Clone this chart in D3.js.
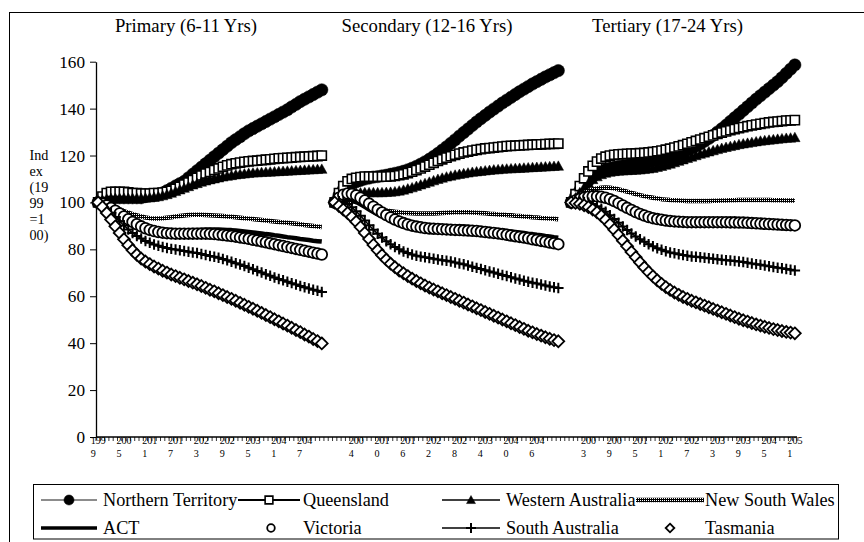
<!DOCTYPE html>
<html><head><meta charset="utf-8">
<script src="https://cdn.jsdelivr.net/npm/d3@7"></script>
<style>
body{margin:0;background:#fff}
svg{display:block}
text{font-family:"Liberation Serif","Tinos","Times New Roman","Nimbus Roman","FreeSerif","DejaVu Serif","Noto Serif",serif;fill:#000}
</style>
</head><body>
<svg id="chart" width="864" height="542"></svg>
<script>
// ---------- data ----------
const years = d3.range(1999, 2052);
const panelTitles = ["Primary (6-11 Yrs)", "Secondary (12-16 Yrs)", "Tertiary (17-24 Yrs)"];
const seriesNames = ["Northern Territory", "Queensland", "Western Australia", "New South Wales",
                     "ACT", "Victoria", "South Australia", "Tasmania"];
const yTicks = [0, 20, 40, 60, 80, 100, 120, 140, 160];
const yTitleLines = ["Ind", "ex", "(19", "99", "=1", "00)"];

// Primary (6-11 Yrs)
const ntPrimary = [100,101,101.5,102,102,102,102,102,102,102,
  102,102.5,103,103,103.5,104,105,106,107,108,
  109,110.5,112,113.5,115,116.5,118,119.5,121,122.5,
  124,125.5,126.8,128,129.3,130.5,131.5,132.5,133.5,134.5,
  135.5,136.5,137.5,138.5,139.5,140.7,141.8,143,144,145,
  146,147,148];
const qldPrimary = [100,102.5,104,104.5,104.5,104.5,104.5,104.3,104,104,
  103.8,103.8,103.8,104,104,104.2,104.5,105,105.8,106.7,
  107.6,108.5,109.5,110.5,111.5,112.3,113,113.8,114.5,115.2,
  115.8,116.3,116.7,117,117.3,117.5,117.7,117.8,118,118.2,
  118.4,118.6,118.8,118.9,119,119.1,119.3,119.4,119.5,119.6,
  119.7,119.8,120];
const waPrimary = [100,101,101.5,101.7,101.8,101.8,101.8,101.8,101.8,101.8,
  101.8,101.9,102,102.2,102.5,102.9,103.4,104,104.7,105.4,
  106.1,106.8,107.5,108.1,108.7,109.2,109.7,110.1,110.5,110.9,
  111.2,111.5,111.8,112,112.2,112.4,112.6,112.7,112.8,112.9,
  113,113.1,113.2,113.3,113.4,113.5,113.6,113.7,113.8,113.9,
  114,114.1,114.2];
const nswPrimary = [100,99.5,99,98.5,97.8,97,96.3,95.6,95,94.5,
  94,93.6,93.3,93.2,93.2,93.3,93.5,93.7,94,94.2,
  94.4,94.6,94.7,94.7,94.7,94.6,94.5,94.4,94.3,94.2,
  94,93.9,93.7,93.5,93.3,93.1,92.9,92.7,92.5,92.3,
  92.1,91.9,91.7,91.5,91.3,91.1,90.9,90.7,90.4,90.2,
  90,89.7,89.5];
const actPrimary = [100,99,97.8,96.5,95.2,94,92.8,91.8,91,90.2,
  89.6,89,88.6,88.3,88,87.9,87.8,87.8,87.8,87.9,
  88,88.1,88.2,88.3,88.4,88.5,88.5,88.5,88.5,88.4,
  88.3,88.2,88,87.8,87.6,87.4,87.2,87,86.8,86.5,
  86.3,86,85.8,85.5,85.2,85,84.7,84.4,84.2,84,
  83.7,83.5,83.3];
const vicPrimary = [100,99.5,98.7,97.7,96.5,95.3,94,92.8,91.7,90.7,
  89.8,89,88.3,87.8,87.4,87.1,86.9,86.8,86.7,86.7,
  86.7,86.7,86.7,86.7,86.7,86.7,86.6,86.5,86.3,86.1,
  85.9,85.7,85.4,85.1,84.8,84.5,84.1,83.8,83.4,83,
  82.6,82.2,81.8,81.4,81,80.6,80.2,79.8,79.4,79,
  78.6,78.2,77.8];
const saPrimary = [100,98.8,97.3,95.6,93.8,92,90.2,88.5,87,85.7,
  84.6,83.6,82.8,82.1,81.5,81,80.6,80.2,79.9,79.6,
  79.3,79,78.7,78.4,78,77.6,77.2,76.8,76.4,75.9,
  75.3,74.7,74.1,73.5,72.9,72.2,71.5,70.8,70.1,69.4,
  68.7,68,67.4,66.8,66.2,65.6,65,64.4,63.8,63.3,
  62.8,62.3,61.8];
const tasPrimary = [100,98,95.5,92.7,89.8,87,84.3,81.8,79.6,77.7,
  76.1,74.8,73.7,72.7,71.8,70.9,70.1,69.3,68.6,67.9,
  67.2,66.5,65.8,65.1,64.4,63.6,62.8,62.1,61.3,60.5,
  59.7,58.9,58.1,57.2,56.4,55.5,54.7,53.8,52.9,52,
  51.1,50.2,49.3,48.4,47.5,46.6,45.6,44.7,43.7,42.8,
  41.8,40.9,39.9];

// Secondary (12-16 Yrs)
const ntSecondary = [100,103,105.5,107,108,108.8,109.4,110,110.4,110.8,
  111,111.3,111.6,112,112.4,112.8,113.3,113.9,114.6,115.4,
  116.3,117.3,118.4,119.6,120.9,122.3,123.7,125.2,126.7,128.3,
  129.8,131.3,132.8,134.3,135.7,137.1,138.5,139.8,141.1,142.4,
  143.6,144.8,146,147.2,148.3,149.4,150.5,151.5,152.5,153.5,
  154.4,155.3,156.2];
const qldSecondary = [100,104,107,109,110,110.5,110.8,111,111,111,
  111,111,111,111.1,111.3,111.6,112,112.5,113.1,113.8,
  114.5,115.3,116.1,116.9,117.7,118.4,119.1,119.7,120.3,120.8,
  121.3,121.7,122.1,122.4,122.7,123,123.2,123.4,123.6,123.8,
  124,124.1,124.2,124.3,124.4,124.5,124.6,124.7,124.8,124.9,
  125,125,125.1];
const waSecondary = [100,101.5,102.5,103.2,103.7,104,104.1,104.2,104.2,104.2,
  104.2,104.2,104.3,104.4,104.6,104.9,105.3,105.8,106.3,106.9,
  107.5,108.1,108.7,109.3,109.9,110.4,110.9,111.3,111.7,112,
  112.3,112.6,112.9,113.1,113.3,113.5,113.7,113.9,114,114.2,
  114.3,114.4,114.5,114.6,114.7,114.8,114.9,115,115.1,115.2,
  115.3,115.4,115.5];
const nswSecondary = [100,100.5,100.8,100.8,100.6,100.2,99.7,99.1,98.5,97.9,
  97.4,97,96.6,96.3,96,95.8,95.6,95.5,95.4,95.3,
  95.3,95.3,95.3,95.3,95.4,95.5,95.6,95.7,95.8,95.8,
  95.8,95.8,95.7,95.6,95.5,95.4,95.2,95.1,94.9,94.8,
  94.6,94.5,94.3,94.2,94,93.9,93.7,93.6,93.4,93.3,
  93.1,93,92.8];
const actSecondary = [100,101,101.5,101.5,101,100.2,99.2,98.1,97,95.9,
  94.9,94,93.2,92.5,91.9,91.4,91,90.7,90.4,90.2,
  90,89.9,89.8,89.7,89.7,89.7,89.7,89.7,89.7,89.7,
  89.6,89.5,89.4,89.2,89,88.8,88.6,88.4,88.2,88,
  87.8,87.6,87.4,87.2,87,86.7,86.5,86.2,86,85.7,
  85.5,85.2,85];
const vicSecondary = [100,102,103.3,103.8,103.6,103,102,100.8,99.5,98.2,
  96.9,95.7,94.6,93.6,92.7,91.9,91.2,90.6,90.1,89.7,
  89.4,89.1,88.9,88.8,88.7,88.6,88.5,88.4,88.3,88.2,
  88.1,88,87.9,87.8,87.6,87.4,87.2,87,86.8,86.5,
  86.2,85.9,85.6,85.3,85,84.7,84.3,84,83.6,83.3,
  82.9,82.6,82.2];
const saSecondary = [100,100.5,100.2,99.3,97.9,96.2,94.3,92.3,90.3,88.4,
  86.6,85,83.5,82.2,81,80,79.1,78.4,77.8,77.3,
  76.9,76.6,76.3,76,75.7,75.4,75.1,74.8,74.4,74,
  73.6,73.1,72.6,72.1,71.6,71.1,70.6,70.1,69.6,69.1,
  68.6,68.1,67.6,67.1,66.6,66.2,65.8,65.4,65,64.6,
  64.2,63.8,63.5];
const tasSecondary = [100,98.5,97,95.5,93.8,91.8,89.5,87,84.4,81.9,
  79.6,77.5,75.6,73.9,72.4,71,69.8,68.6,67.5,66.5,
  65.5,64.6,63.7,62.9,62.1,61.3,60.5,59.7,58.9,58.1,
  57.3,56.5,55.7,54.9,54.1,53.3,52.5,51.7,50.9,50.1,
  49.3,48.5,47.7,46.9,46.1,45.3,44.6,43.9,43.2,42.5,
  41.9,41.3,40.8];

// Tertiary (17-24 Yrs)
const ntTertiary = [100,102.5,105,107.3,109.3,111,112.3,113.3,114,114.6,
  115,115.3,115.6,115.9,116.2,116.5,116.8,117.1,117.4,117.8,
  118.1,118.5,119,119.5,120.1,120.8,121.5,122.3,123.1,124,
  125,126.1,127.3,128.6,130,131.4,132.9,134.5,136.1,137.6,
  139.2,140.8,142.4,144,145.5,147,148.5,150,151.5,153.2,
  155,156.8,158.6];
const qldTertiary = [100,103.5,107,110.3,113.2,115.6,117.4,118.7,119.5,120,
  120.3,120.5,120.6,120.7,120.8,120.9,121,121.1,121.3,121.5,
  121.8,122.1,122.5,122.9,123.4,123.9,124.4,125,125.6,126.2,
  126.8,127.4,128,128.6,129.2,129.8,130.3,130.8,131.3,131.7,
  132.1,132.5,132.9,133.2,133.5,133.8,134.1,134.3,134.5,134.7,
  134.9,135,135.1];
const waTertiary = [100,102,104.2,106.3,108.2,109.8,111,111.9,112.5,112.9,
  113.2,113.4,113.5,113.6,113.7,113.8,113.9,114.1,114.3,114.6,
  115,115.4,115.9,116.4,117,117.6,118.2,118.8,119.4,120,
  120.6,121.1,121.6,122.1,122.6,123.1,123.5,123.9,124.3,124.7,
  125,125.3,125.6,125.9,126.2,126.4,126.6,126.8,127,127.2,
  127.4,127.5,127.7];
const nswTertiary = [100,101.5,102.8,103.9,104.8,105.5,106,106.3,106.4,106.3,
  106,105.6,105.1,104.6,104.1,103.6,103.1,102.7,102.3,102,
  101.7,101.4,101.2,101,100.9,100.8,100.7,100.6,100.6,100.6,
  100.6,100.6,100.6,100.7,100.7,100.8,100.8,100.9,100.9,101,
  101,101,101,101,101,101,101,100.9,100.9,100.9,
  100.8,100.8,100.8];
const actTertiary = [100,101,101.8,102.2,102.4,102.4,102.2,101.8,101.2,100.4,
  99.5,98.6,97.7,96.9,96.1,95.4,94.8,94.3,93.9,93.5,
  93.2,92.9,92.7,92.5,92.3,92.2,92.1,92,92,92,
  92,92,92,92,92,92,92,91.9,91.9,91.8,
  91.7,91.6,91.5,91.4,91.3,91.2,91.1,91,90.9,90.8,
  90.7,90.6,90.5];
const vicTertiary = [100,100.8,101.5,102,102.4,102.6,102.6,102.4,102,101.4,
  100.6,99.7,98.7,97.7,96.8,95.9,95.1,94.4,93.8,93.3,
  92.9,92.6,92.3,92.1,91.9,91.8,91.7,91.6,91.6,91.6,
  91.6,91.6,91.6,91.6,91.6,91.6,91.6,91.5,91.5,91.4,
  91.4,91.3,91.2,91.1,91,90.9,90.8,90.7,90.6,90.5,
  90.4,90.3,90.2];
const saTertiary = [100,100.2,100.3,100.2,99.9,99.3,98.4,97.3,96,94.5,
  92.9,91.3,89.7,88.2,86.8,85.5,84.3,83.2,82.2,81.3,
  80.5,79.8,79.2,78.7,78.3,77.9,77.6,77.3,77,76.8,
  76.6,76.4,76.2,76,75.8,75.6,75.4,75.2,75,74.8,
  74.6,74.3,74,73.7,73.4,73.1,72.8,72.5,72.2,71.9,
  71.6,71.3,71];
const tasTertiary = [100,99.8,99.4,98.8,98,97,95.8,94.3,92.6,90.6,
  88.4,86.1,83.7,81.3,78.9,76.6,74.4,72.3,70.3,68.5,
  66.8,65.3,63.9,62.7,61.6,60.6,59.7,58.9,58.1,57.4,
  56.7,56,55.3,54.6,53.9,53.2,52.5,51.8,51.1,50.4,
  49.8,49.2,48.6,48,47.5,47,46.5,46,45.6,45.2,
  44.8,44.5,44.2];

const panelSeries = [
  [ntPrimary, qldPrimary, waPrimary, nswPrimary, actPrimary, vicPrimary, saPrimary, tasPrimary],
  [ntSecondary, qldSecondary, waSecondary, nswSecondary, actSecondary, vicSecondary, saSecondary, tasSecondary],
  [ntTertiary, qldTertiary, waTertiary, nswTertiary, actTertiary, vicTertiary, saTertiary, tasTertiary]
];

// ---------- layout / style ----------
const svg = d3.select("#chart");

// calibrate font size so widths match Times-like metrics whatever serif face is found
const probe = svg.append("text").attr("font-size", 100).text("Northern Territory");
const probeW = probe.node().getComputedTextLength();
probe.remove();
let fk = probeW > 0 ? 747 / probeW : 1;
fk = Math.max(0.78, Math.min(1.1, fk));
const fs = v => v * fk;

const defs = svg.append("defs");
const pat = defs.append("pattern").attr("id", "checker").attr("patternUnits", "userSpaceOnUse")
  .attr("width", 2).attr("height", 2);
pat.append("rect").attr("width", 2).attr("height", 2).attr("fill", "#000");
pat.append("rect").attr("x", 0).attr("y", 0).attr("width", 1).attr("height", 1).attr("fill", "#fff");

// chart frame
svg.append("rect").attr("x", 9.5).attr("y", 12.5).attr("width", 880).attr("height", 560)
  .attr("fill", "none").attr("stroke", "#000").attr("stroke-width", 1);

// categories: three panels of years separated by two blank slots
const cats = [];
panelTitles.forEach((t, p) => {
  years.forEach(yr => cats.push({key: p + "-" + yr, year: yr, panel: p}));
  if (p < panelTitles.length - 1) {
    cats.push({key: "gap" + p + "a", year: null, panel: p});
    cats.push({key: "gap" + p + "b", year: null, panel: p});
  }
});

const x = d3.scaleBand().domain(cats.map(c => c.key)).range([96, 797]).paddingInner(0).paddingOuter(0);
const y = d3.scaleLinear().domain([0, 160]).range([437, 61.7]);
const bw = x.bandwidth();

// y axis
const yAxis = svg.append("g").attr("transform", "translate(96,0)")
  .call(d3.axisLeft(y).tickValues(yTicks).tickSize(6).tickSizeOuter(0).tickPadding(5));
yAxis.attr("font-family", null);
yAxis.select(".domain").attr("stroke", "#000").attr("stroke-width", 1.3);
yAxis.selectAll(".tick line").attr("stroke", "#000").attr("stroke-width", 1);
yAxis.selectAll(".tick text").attr("font-size", fs(17)).attr("fill", "#000");

// x axis line
svg.append("line").attr("x1", x.range()[0]).attr("x2", x.range()[1]).attr("y1", y(0)).attr("y2", y(0))
  .attr("stroke", "#000").attr("stroke-width", 1.3);
// tick marks at every category boundary
const boundaries = cats.map(c => x(c.key)).concat([x.range()[1]]);
svg.append("g").selectAll("line").data(boundaries).join("line")
  .attr("x1", d => d).attr("x2", d => d).attr("y1", y(0)).attr("y2", y(0) + 4)
  .attr("stroke", "#000").attr("stroke-width", 0.8);
// labels every 6th category, wrapped after three characters
const labelled = cats.filter((c, i) => i % 6 === 0 && c.year !== null);
const lab = svg.append("g").selectAll("text").data(labelled).join("text")
  .attr("font-size", fs(10)).attr("text-anchor", "start");
lab.each(function(c) {
  const s = String(c.year);
  const cx = x(c.key) + bw / 2;
  const w = 15;
  const t = d3.select(this);
  t.append("tspan").attr("x", cx - w / 2).attr("y", 444).text(s.slice(0, 3));
  t.append("tspan").attr("x", cx - w / 2).attr("y", 456.5).text(s.slice(3));
});

// y title (wrapped, one text element)
const yTitle = svg.append("text").attr("font-size", fs(14));
const yTitleBase = [160, 176, 192, 208, 224, 240];
yTitleLines.forEach((d, i) => yTitle.append("tspan").attr("x", 29.5).attr("y", yTitleBase[i]).text(d));

// panel titles
const titleCenters = [186, 427, 667.5];
svg.append("g").selectAll("text").data(panelTitles).join("text")
  .attr("x", (d, i) => titleCenters[i]).attr("y", 31.5).attr("text-anchor", "middle")
  .attr("font-size", fs(18.5)).text(d => d);

// ---------- symbols ----------
const plusType = {draw(ctx, size) { const r = Math.sqrt(size) / 2; ctx.moveTo(-r, 0); ctx.lineTo(r, 0); ctx.moveTo(0, -r); ctx.lineTo(0, r); }};
const diamondType = {draw(ctx, size) { const r = Math.sqrt(size) / 2; ctx.moveTo(0, -r); ctx.lineTo(r, 0); ctx.lineTo(0, r); ctx.lineTo(-r, 0); ctx.closePath(); }};
const triType = {draw(ctx, size) { const r = Math.sqrt(size) / 2; ctx.moveTo(0, -r); ctx.lineTo(r, r * 0.8); ctx.lineTo(-r, r * 0.8); ctx.closePath(); }};

const styles = [
  {line: {stroke: "#666", width: 1.5}, sym: d3.symbolCircle, size: 120, fill: "#000", stroke: "#000", sw: 0.5, lsize: 80},
  {line: {stroke: "#000", width: 2}, sym: d3.symbolSquare, size: 84, fill: "#fff", stroke: "#000", sw: 1.6, lsize: 60},
  {line: {stroke: "#000", width: 1.5}, sym: triType, size: 110, fill: "#000", stroke: "#000", sw: 0.5, lsize: 80},
  {line: {stroke: "url(#checker)", width: 4.5}, sym: null},
  {line: {stroke: "#000", width: 4.5}, sym: null, lwidth: 3.5},
  {line: null, sym: d3.symbolCircle, size: 90, fill: "#fff", stroke: "#000", sw: 1.8, lsize: 45},
  {line: {stroke: "#000", width: 1.5}, sym: plusType, size: 110, fill: "none", stroke: "#000", sw: 2, lsize: 100},
  {line: null, sym: diamondType, size: 140, fill: "#fff", stroke: "#000", sw: 1.8, lsize: 75}
];

const lineGen = d3.line().x(d => d.x).y(d => d.y);
const plot = svg.append("g");
for (let s = 0; s < seriesNames.length; s++) {
  const st = styles[s];
  panelSeries.forEach((ser, p) => {
    const pts = years.map((yr, i) => ({x: x(p + "-" + yr) + bw / 2, y: y(ser[s][i])}));
    if (st.line) {
      plot.append("path").datum(pts).attr("d", lineGen).attr("fill", "none")
        .attr("stroke", st.line.stroke).attr("stroke-width", st.line.width)
        .attr("stroke-linejoin", "round");
    }
    if (st.sym) {
      const sym = d3.symbol().type(st.sym).size(st.size);
      plot.append("g").selectAll("path").data(pts).join("path")
        .attr("transform", d => `translate(${d.x},${d.y})`).attr("d", sym)
        .attr("fill", st.fill).attr("stroke", st.stroke).attr("stroke-width", st.sw);
    }
  });
}

// ---------- legend ----------
svg.append("rect").attr("x", 33.5).attr("y", 484.5).attr("width", 805).attr("height", 54.5)
  .attr("fill", "#fff").attr("stroke", "#000").attr("stroke-width", 1);
const legPos = [
  {x0: 41, x1: 97, tx: 103, row: 0}, {x0: 238, x1: 300, tx: 303, row: 0},
  {x0: 442, x1: 500, tx: 506, row: 0}, {x0: 636, x1: 704, tx: 705, row: 0},
  {x0: 41, x1: 97, tx: 103, row: 1}, {x0: 238, x1: 304, tx: 303, row: 1},
  {x0: 442, x1: 500, tx: 506, row: 1}, {x0: 636, x1: 704, tx: 705, row: 1}
];
const rowY = [500, 528];
const rowBase = [506, 534];
const leg = svg.append("g");
seriesNames.forEach((name, s) => {
  const st = styles[s], lp = legPos[s], cy = rowY[lp.row];
  if (st.line) {
    leg.append("line").attr("x1", lp.x0).attr("x2", lp.x1).attr("y1", cy).attr("y2", cy)
      .attr("stroke", st.line.stroke).attr("stroke-width", st.lwidth || st.line.width);
  }
  if (st.sym) {
    const cx = (lp.x0 + lp.x1) / 2;
    leg.append("path").attr("transform", `translate(${cx},${cy})`)
      .attr("d", d3.symbol().type(st.sym).size(st.lsize)())
      .attr("fill", st.fill).attr("stroke", st.stroke).attr("stroke-width", st.sw);
  }
  leg.append("text").attr("x", lp.tx).attr("y", rowBase[lp.row]).attr("font-size", fs(18)).text(name);
});
</script>
</body></html>
